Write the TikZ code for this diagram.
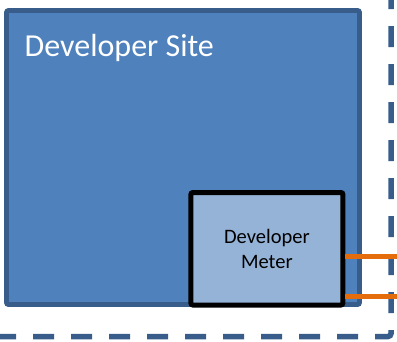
\documentclass[tikz,border=0pt]{standalone}
\usepackage{fontspec}
\setmainfont{Carlito}
\definecolor{siteblue}{HTML}{4F81BD}
\definecolor{siteedge}{HTML}{385D8A}
\definecolor{meterfill}{HTML}{95B3D7}
\definecolor{linkorange}{HTML}{E46C0A}
\tikzset{
  sitebox/.style={draw=siteedge, fill=siteblue, line width=4.8pt, rounded corners=2pt,
    rectangle, inner sep=0pt, minimum width=353pt, minimum height=294pt},
  meterbox/.style={draw=black, fill=meterfill, line width=5pt, rounded corners=2pt,
    rectangle, inner sep=0pt, minimum width=152pt, minimum height=112.5pt,
    align=center, font=\fontsize{20.5}{25}\selectfont},
  boundary/.style={draw=siteedge, line width=5.5pt, dash pattern=on 21pt off 17pt, rounded corners=3pt},
  feed/.style={draw=linkorange, line width=5pt},
}
\begin{document}
\begin{tikzpicture}[x=1pt, y=-1pt]
  \useasboundingbox (0,0) rectangle (397,341);
  % site area
  \node[sitebox] (site) at (183,157.5) {};
  \node[anchor=base west, text=white, inner sep=0pt, font=\fontsize{32}{36}\selectfont] (sitelabel) at (24.5,56.5) {Developer Site};
  % surrounding boundary
  \coordinate (bl) at (-5,336.5);
  \coordinate (corner) at (391,336.5);
  \coordinate (tr) at (391,-20);
  \draw[boundary] (bl) -- (corner) -- (tr);
  % meter
  \node[meterbox] (meter) at (266.9,248.75) {Developer\\Meter};
  % outgoing lines
  \coordinate (out1) at (400,256.5);
  \coordinate (out2) at (400,296.5);
  \draw[feed] (meter.east |- out1) -- (out1);
  \draw[feed] (meter.east |- out2) -- (out2);
\end{tikzpicture}
\end{document}
